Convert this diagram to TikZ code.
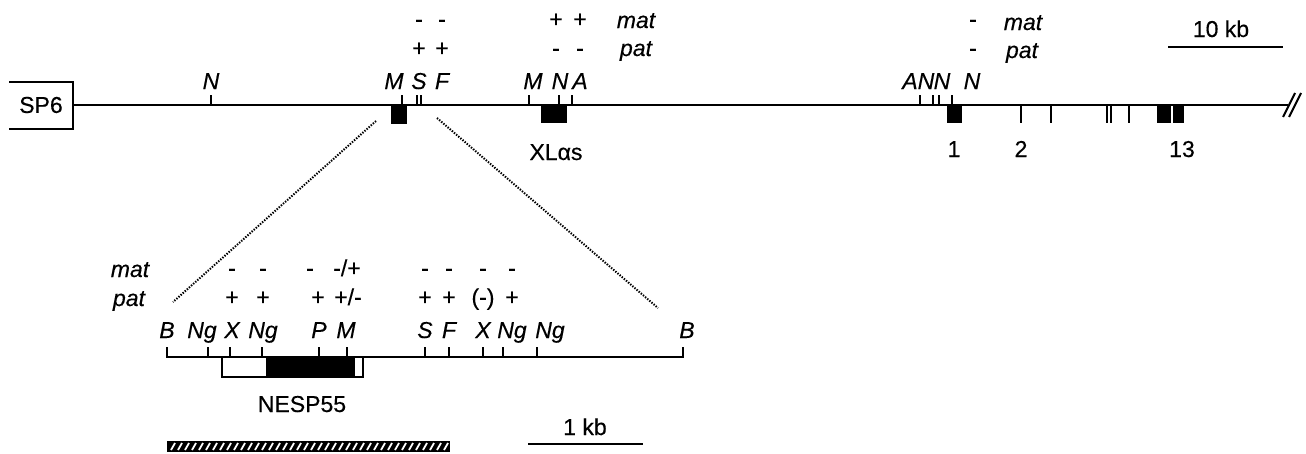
\documentclass[tikz,border=0pt]{standalone}
\usepackage{fontspec}
\setmainfont[FakeBold=0.35]{Liberation Sans}
\usetikzlibrary{calc}

\begin{document}
\begin{tikzpicture}[
  x=1pt, y=-1pt,
  font=\fontsize{23}{26}\selectfont,
  dna/.style={line width=2.4pt},
  site/.style={line width=1.8pt},
  exon/.style={fill=black, draw=none},
  enz/.style={anchor=base, inner sep=0pt, font=\fontsize{23}{26}\selectfont\itshape},
  sgn/.style={anchor=base, inner sep=0pt},
  lbl/.style={anchor=base, inner sep=0pt},
  zoomline/.style={line width=2pt, dash pattern=on 1.4pt off 1.4pt},
  scalebar/.style={line width=2.6pt}
]
\useasboundingbox (0,0) rectangle (1306,453);

% upper map: SP6 end and genomic line
\node[lbl, anchor=center] (sp6) at (41,105) {SP6};
\draw[line width=2.6pt] (9,82) -- (73,82) -- (73,129) -- (9,129);
\coordinate (mainL) at (73,105);
\coordinate (mainR) at (1288,105);
\draw[dna] (mainL) -- (mainR);
\draw[line width=2pt] (1283,117) -- (1295,93) (1289,117) -- (1301,93);

% restriction sites above the line
\foreach \x in {211,402,417,421,529,559,572,920,933,939,952}
  \draw[site] (\x,95) -- (\x,105);
\foreach \x/\t in {211/N,394/M,419/S,442/F,533/M,560/N,580/A,910/A,926/N,942/N,972/N}
  \node[enz] (site-\x) at (\x,89) {\t};

% exons below the line
\fill[exon] (391,105) rectangle (407,124);
\fill[exon] (541,105) rectangle (567,123);
\fill[exon] (947,105) rectangle (962,123);
\fill[exon] (1157,105) rectangle (1171,123);
\fill[exon] (1173,105) rectangle (1184,123);
\foreach \x in {1021,1051,1107,1111,1129}
  \draw[site] (\x,105) -- (\x,123);
\node[lbl] (xlas) at (556,160) {XLαs};
\node[lbl] (ex1) at (954,157) {1};
\node[lbl] (ex2) at (1021,157) {2};
\node[lbl] (ex13) at (1182,157) {13};

% methylation, upper map
\foreach \x/\m/\p in {419/-/+,442/-/+,556/+/-,580/+/-,973/-/-} {
  \node[sgn] (um-\x) at (\x,27) {\m};
  \node[sgn] (up-\x) at (\x,56) {\p};
}
\node[enz] (mat1) at (636,28) {mat};
\node[enz] (pat1) at (636,56) {pat};
\node[enz] (mat2) at (1023,30) {mat};
\node[enz] (pat2) at (1022,58) {pat};

% scale 10 kb
\node[lbl] (tenkb) at (1221,37) {10 kb};
\draw[scalebar] (1168,47) -- (1283,47);

% zoom lines
\coordinate (zl1) at (376,121);
\coordinate (zl2) at (173,302);
\coordinate (zr1) at (437,118);
\coordinate (zr2) at (658,308);
\draw[zoomline] (zl1) -- (zl2);
\draw[zoomline] (zr1) -- (zr2);

% lower map
\draw[dna] (167,347) -- (167,357) -- (683,357) -- (683,347);
\foreach \x in {208,230,262,319,347,425,449,483,503,537}
  \draw[site] (\x,347) -- (\x,357);
\foreach \x/\t in {167/B,202/Ng,232/X,263/Ng,319/P,346/M,425/S,449/F,483/X,512/Ng,550/Ng,687/B}
  \node[enz] (lsite-\x) at (\x,338) {\t};

% NESP55 transcript
\draw[line width=2pt, fill=white] (222,357) rectangle (363,377);
\fill[exon] (266,357) rectangle (355,377);
\draw[line width=2pt] (222,357) rectangle (363,377);
\node[lbl] (nesp) at (302,412) {NESP55};

% methylation, lower map
\node[enz] (mat3) at (130,277) {mat};
\node[enz] (pat3) at (129,306) {pat};
\foreach \x/\m/\p in {232/-/+,263/-/+,425/-/+,449/-/+,483/-/(-),512/-/+} {
  \node[sgn] (lm-\x) at (\x,276) {\m};
  \node[sgn] (lp-\x) at (\x,305) {\p};
}
\node[sgn] (lm-310) at (310,276) {-};
\node[sgn] (lm-347) at (347,276) {-/+};
\node[sgn] (lp-318) at (318,305) {+};
\node[sgn] (lp-348) at (348,305) {+/-};

% hatched probe
\fill (167,441) rectangle (450,452);
\foreach \x in {171,178,...,444}
  \draw[white, line width=1.8pt] (\x,450) -- (\x+4,443);

% scale 1 kb
\node[lbl] (onekb) at (585,435) {1 kb};
\draw[scalebar] (528,444) -- (643,444);
\end{tikzpicture}
\end{document}
